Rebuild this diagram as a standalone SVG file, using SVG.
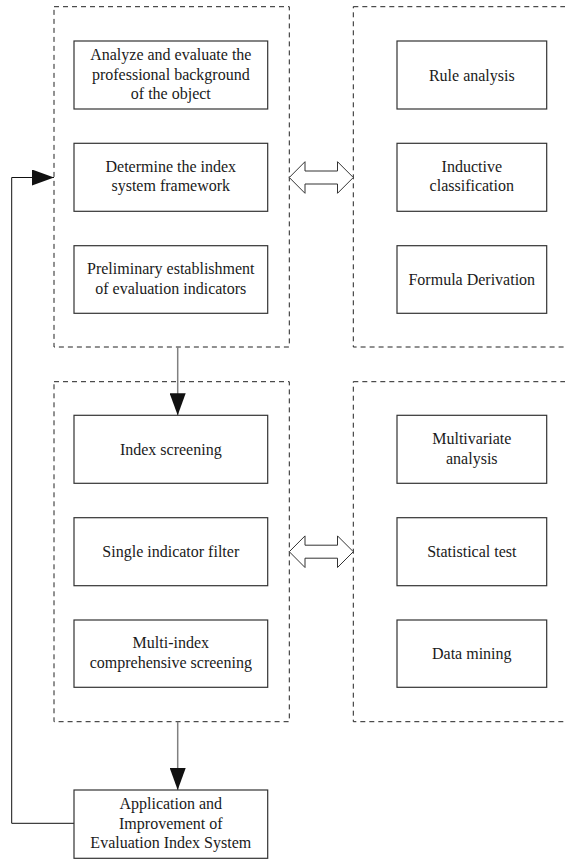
<svg xmlns="http://www.w3.org/2000/svg" width="565" height="859" viewBox="0 0 565 859">
  <style>
    .frame { fill: none; stroke: #222; stroke-width: 1; stroke-dasharray: 5 4; }
    .box { fill: #fff; stroke: #333; stroke-width: 1.2; }
    .lbl { font-family: "Liberation Serif", "Times New Roman", serif; font-size: 16px; fill: #1a1a1a; text-anchor: middle; }
    .shaft { fill: none; stroke: #808080; stroke-width: 1.5; }
    .loop { fill: none; stroke: #111; stroke-width: 1; }
    .dbl { fill: #fff; stroke: #333; stroke-width: 1; }
  </style>
  <defs>
    <marker id="head" markerUnits="userSpaceOnUse" markerWidth="22" markerHeight="16" refX="22" refY="8" orient="auto">
      <path d="M0,0 L22,8 L0,16 Z" fill="#111"/>
    </marker>
  </defs>
  <rect width="565" height="859" fill="#fff"/>

  <!-- dashed group frames -->
  <g id="frames">
    <rect class="frame" x="54" y="6.7" width="235.3" height="340.3"/>
    <rect class="frame" x="353.3" y="6.7" width="214" height="340.3"/>
    <rect class="frame" x="54" y="381.7" width="235.3" height="340"/>
    <rect class="frame" x="353.3" y="381.7" width="214" height="340"/>
  </g>

  <!-- connectors -->
  <g id="connectors">
    <line class="shaft" x1="177.7" y1="347" x2="177.7" y2="415.3" marker-end="url(#head)"/>
    <line class="shaft" x1="177.7" y1="721.7" x2="177.7" y2="790" marker-end="url(#head)"/>
    <polyline class="loop" points="74,823.3 11.7,823.3 11.7,177.5 54,177.5" marker-end="url(#head)"/>
    <polygon class="dbl" points="289.3,177.5 305,161.7 305,171 337.5,171 337.5,161.7 353.3,177.5 337.5,193.3 337.5,184 305,184 305,193.3"/>
    <polygon class="dbl" points="289.3,551.7 305,535.9 305,545.2 337.5,545.2 337.5,535.9 353.3,551.7 337.5,567.5 337.5,558.2 305,558.2 305,567.5"/>
  </g>

  <!-- upper left column -->
  <g id="analyze">
    <rect class="box" x="74" y="41" width="193.7" height="68"/>
    <text class="lbl" x="170.8" y="60">Analyze and evaluate the</text>
    <text class="lbl" x="170.8" y="79.5">professional background</text>
    <text class="lbl" x="170.8" y="99">of the object</text>
  </g>
  <g id="framework">
    <rect class="box" x="74" y="143.3" width="193.7" height="68"/>
    <text class="lbl" x="170.8" y="171.5">Determine the index</text>
    <text class="lbl" x="170.8" y="191">system framework</text>
  </g>
  <g id="preliminary">
    <rect class="box" x="74" y="245.7" width="193.7" height="67.6"/>
    <text class="lbl" x="170.8" y="274">Preliminary establishment</text>
    <text class="lbl" x="170.8" y="293.5">of evaluation indicators</text>
  </g>

  <!-- upper right column -->
  <g id="rule">
    <rect class="box" x="397" y="41" width="149.7" height="68"/>
    <text class="lbl" x="471.8" y="80.5">Rule analysis</text>
  </g>
  <g id="inductive">
    <rect class="box" x="397" y="143.3" width="149.7" height="68"/>
    <text class="lbl" x="471.8" y="171.5">Inductive</text>
    <text class="lbl" x="471.8" y="191">classification</text>
  </g>
  <g id="formula">
    <rect class="box" x="397" y="245.7" width="149.7" height="67.6"/>
    <text class="lbl" x="471.8" y="285">Formula Derivation</text>
  </g>

  <!-- lower left column -->
  <g id="screening">
    <rect class="box" x="74" y="415.3" width="193.7" height="68"/>
    <text class="lbl" x="170.8" y="455">Index screening</text>
  </g>
  <g id="single">
    <rect class="box" x="74" y="517.7" width="193.7" height="68"/>
    <text class="lbl" x="170.8" y="557">Single indicator filter</text>
  </g>
  <g id="multi">
    <rect class="box" x="74" y="620" width="193.7" height="67.3"/>
    <text class="lbl" x="170.8" y="648.2">Multi-index</text>
    <text class="lbl" x="170.8" y="667.7">comprehensive screening</text>
  </g>

  <!-- lower right column -->
  <g id="multivariate">
    <rect class="box" x="397" y="415.3" width="149.7" height="68"/>
    <text class="lbl" x="471.8" y="444">Multivariate</text>
    <text class="lbl" x="471.8" y="463.5">analysis</text>
  </g>
  <g id="statistical">
    <rect class="box" x="397" y="517.7" width="149.7" height="68"/>
    <text class="lbl" x="471.8" y="557">Statistical test</text>
  </g>
  <g id="mining">
    <rect class="box" x="397" y="620" width="149.7" height="67.3"/>
    <text class="lbl" x="471.8" y="659">Data mining</text>
  </g>

  <!-- final stage -->
  <g id="application">
    <rect class="box" x="74" y="790" width="193.7" height="68.3"/>
    <text class="lbl" x="170.8" y="809">Application and</text>
    <text class="lbl" x="170.8" y="828.5">Improvement of</text>
    <text class="lbl" x="170.8" y="848">Evaluation Index System</text>
  </g>
</svg>
